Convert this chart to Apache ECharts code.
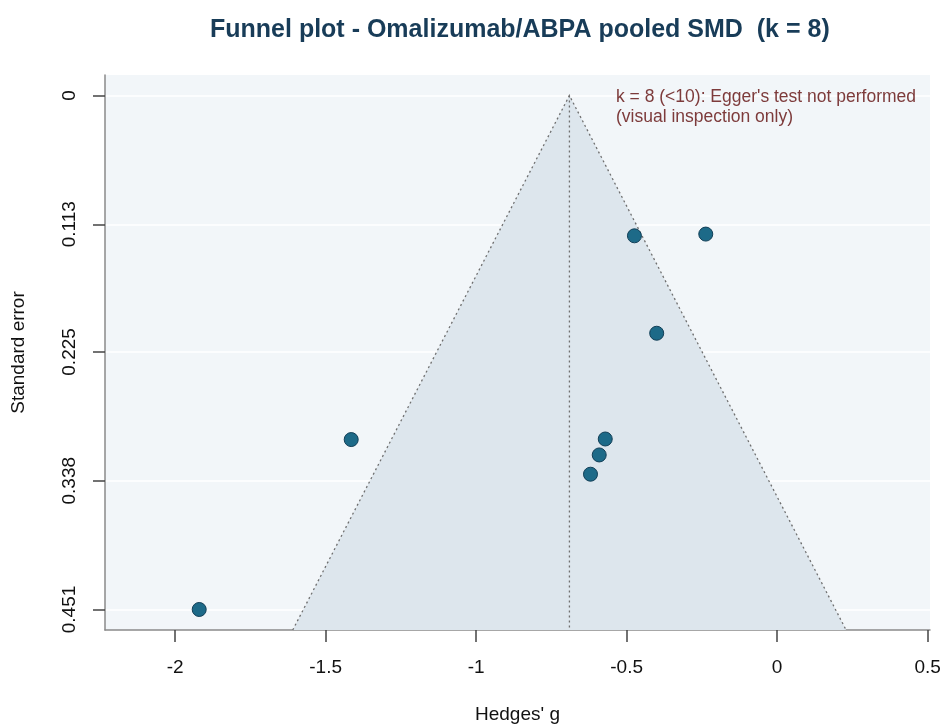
<!DOCTYPE html>
<html>
<head>
<meta charset="utf-8">
<script src="https://cdn.jsdelivr.net/npm/echarts@6/dist/echarts.min.js"></script>
<style>
  html, body { margin: 0; padding: 0; background: #fff; }
  #chart { width: 944px; height: 724px; }
</style>
</head>
<body>
<div id="chart"></div>
<script>
// study estimates (Hedges' g) and their standard errors
var hedgesG = [-0.237, -0.474, -0.400, -1.415, -0.571, -0.591, -0.620, -1.920];
var stdErr = [0.1216, 0.1231, 0.2086, 0.3019, 0.3014, 0.3154, 0.3323, 0.451];
// pooled estimate, funnel = pooled +/- 1.96 * SE
var pooled = -0.69;
var zCrit = 1.96;
// axis ticks and ranges
var xTicks = [-2, -1.5, -1, -0.5, 0, 0.5];
var yTicks = [0, 0.113, 0.225, 0.338, 0.451];
var xRange = [-2.233, 0.508];
var yRange = [-0.018, 0.469];

var mychart = echarts.init(document.getElementById('chart'));
var points = hedgesG.map(function (g, i) { return [g, stdErr[i]]; });
var font = 'Liberation Sans, Arial, sans-serif';

var option = {
    animation: false,
    title: {
        text: 'Funnel plot - Omalizumab/ABPA pooled SMD  (k = 8)',
        left: 205,
        top: 13,
        textStyle: { color: '#183c58', fontSize: 25, fontWeight: 'bold', fontFamily: font }
    },
    grid: {
        left: 105, right: 14, top: 75, bottom: 94,
        outerBoundsMode: 'none',
        show: true, backgroundColor: '#f2f6f9', borderWidth: 0
    },
    xAxis: {
        type: 'value',
        min: xRange[0], max: xRange[1],
        name: "Hedges' g",
        nameLocation: 'middle',
        nameGap: 75,
        nameTextStyle: { color: '#111', fontSize: 19, fontFamily: font },
        axisLine: { show: true, onZero: false, lineStyle: { color: '#8a8a8a', width: 1.5 } },
        axisTick: { show: true, customValues: xTicks, length: 12, lineStyle: { color: '#444', width: 1.5 } },
        axisLabel: { customValues: xTicks, margin: 28, color: '#111', fontSize: 19, fontFamily: font },
        splitLine: { show: false }
    },
    yAxis: {
        type: 'value',
        inverse: true,
        min: yRange[0], max: yRange[1],
        name: 'Standard error',
        nameLocation: 'middle',
        nameGap: 77,
        nameRotate: 90,
        nameTextStyle: { color: '#111', fontSize: 19, fontFamily: font },
        axisLine: { show: true, onZero: false, lineStyle: { color: '#8a8a8a', width: 1.5 } },
        axisTick: { show: true, customValues: yTicks, length: 12, lineStyle: { color: '#444', width: 1.5 } },
        axisLabel: { customValues: yTicks, rotate: 90, margin: 26, color: '#111', fontSize: 19, fontFamily: font },
        splitLine: { show: true, lineStyle: { color: '#ffffff', width: 1.5 } }
    },
    graphic: [{
        type: 'text',
        left: 616, top: 87,
        z: 100,
        style: {
            text: "k = 8 (<10): Egger's test not performed\n(visual inspection only)",
            fill: '#7d3b3b', font: '17.5px ' + font, lineHeight: 20
        }
    }],
    series: [
        {
            type: 'custom',
            silent: true,
            z: 1,
            data: [[pooled, yRange[1]]],
            renderItem: function (params, api) {
                var c = api.value(0), se = api.value(1);
                var apex = api.coord([c, 0]);
                var bl = api.coord([c - zCrit * se, se]);
                var br = api.coord([c + zCrit * se, se]);
                var bc = api.coord([c, se]);
                var dotted = { stroke: '#6f6f6f', lineWidth: 1.3, lineDash: [2, 3], fill: null };
                return {
                    type: 'group',
                    children: [
                        { type: 'polygon', shape: { points: [apex, bl, br] }, style: { fill: '#dde6ed' } },
                        { type: 'polyline', shape: { points: [bl, apex, br] }, style: dotted },
                        { type: 'line', shape: { x1: apex[0], y1: apex[1], x2: bc[0], y2: bc[1] }, style: dotted }
                    ]
                };
            }
        },
        {
            type: 'scatter',
            z: 3,
            data: points,
            symbolSize: 14,
            itemStyle: { color: '#1d6a88', borderColor: '#123f57', borderWidth: 1, opacity: 1 }
        }
    ]
};
mychart.setOption(option);
</script>
</body>
</html>
